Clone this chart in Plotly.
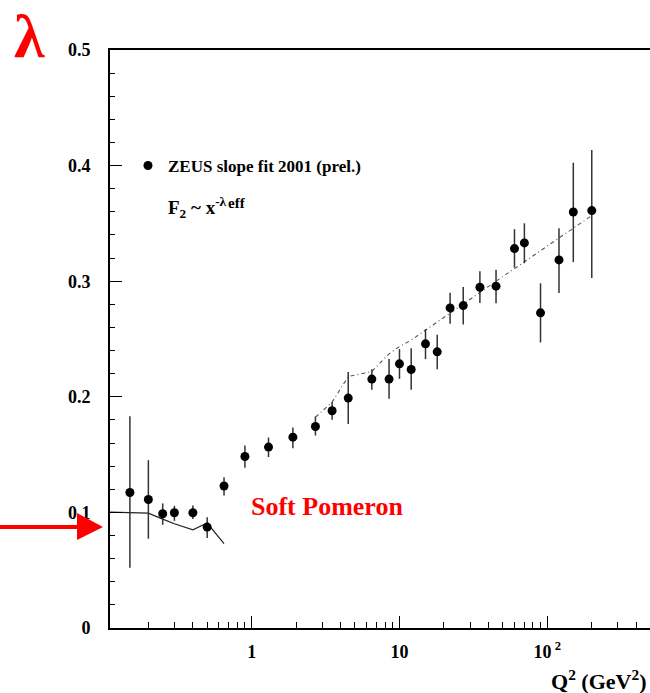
import math
import plotly.graph_objects as go

# ZEUS effective slope lambda_eff of F2 ~ x^-lambda, versus Q^2
q2 = [0.15, 0.2, 0.25, 0.3, 0.4, 0.5, 0.65, 0.9, 1.3, 1.9, 2.7, 3.5, 4.5, 6.5, 8.5,
      10, 12, 15, 18, 22, 27, 35, 45, 60, 70, 90, 120, 150, 200]
lam = [0.1172, 0.1112, 0.0988, 0.0997, 0.0997, 0.0873, 0.1228, 0.1484, 0.1565, 0.1651,
       0.1743, 0.1879, 0.1989, 0.2153, 0.2153, 0.2285, 0.2236, 0.2458, 0.2389, 0.2769,
       0.2789, 0.2948, 0.2957, 0.3282, 0.3331, 0.2726, 0.3184, 0.3599, 0.3611]
err_up = [0.066, 0.034, 0.009, 0.006, 0.0063, 0.0086, 0.0077, 0.0095, 0.0083, 0.0083,
          0.0086, 0.0075, 0.0225, 0.0086, 0.0173, 0.0127, 0.0185, 0.0127, 0.0147, 0.0132,
          0.0161, 0.0138, 0.0143, 0.0168, 0.017, 0.0256, 0.0274, 0.0426, 0.0524]
err_dn = [0.065, 0.034, 0.0095, 0.007, 0.0055, 0.0095, 0.0081, 0.0097, 0.0086, 0.0095,
          0.0078, 0.0078, 0.0225, 0.0092, 0.017, 0.013, 0.0175, 0.0132, 0.015, 0.0138,
          0.0164, 0.0136, 0.0147, 0.0164, 0.0175, 0.0256, 0.0285, 0.0434, 0.0584]

# Soft Pomeron expectation at low Q^2
soft_q2 = [0.11, 0.15, 0.2, 0.25, 0.3, 0.4, 0.5, 0.65]
soft_lam = [0.1003, 0.1000, 0.0994, 0.0942, 0.0902, 0.0850, 0.0908, 0.0729]

# QCD fit curve at higher Q^2
fit_q2 = [2.7, 3.5, 4.5, 6.5, 8.5, 10, 12, 15, 18, 22, 27, 35, 45, 60, 70, 90, 120, 150, 200]
fit_lam = [0.1824, 0.1954, 0.2175, 0.2219, 0.2372, 0.2435, 0.249, 0.2579, 0.2647, 0.2723,
           0.2804, 0.2902, 0.300, 0.3109, 0.3167, 0.3264, 0.3375, 0.3459, 0.3568]

x_major = [1, 10, 100]
x_major_text = ["1", "10", "10<sup> 2</sup>"]
x_minor = [0.2, 0.3, 0.4, 0.5, 0.6, 0.7, 0.8, 0.9,
           2, 3, 4, 5, 6, 7, 8, 9,
           20, 30, 40, 50, 60, 70, 80, 90,
           200, 300, 400]
y_major = [0, 0.1, 0.2, 0.3, 0.4, 0.5]
y_major_text = ["0", "0.1", "0.2", "0.3", "0.4", "0.5"]

SERIF = "Liberation Serif"

fig = go.Figure()

fig.add_trace(go.Scatter(
    x=soft_q2, y=soft_lam, mode="lines",
    line=dict(color="#222222", width=1.2),
    showlegend=False, hoverinfo="skip",
))
fig.add_trace(go.Scatter(
    x=fit_q2, y=fit_lam, mode="lines",
    line=dict(color="#555555", width=1.1, dash="4px,3px,1px,3px"),
    showlegend=False, hoverinfo="skip",
))
fig.add_trace(go.Scatter(
    x=q2, y=lam, mode="markers",
    name="ZEUS slope fit 2001 (prel.)",
    marker=dict(color="black", size=9, symbol="circle"),
    error_y=dict(type="data", symmetric=False, array=err_up, arrayminus=err_dn,
                 color="#333333", thickness=1.5, width=0),
))

# plot area spans 110..650 px horizontally, 50..628 px vertically
L, R, T, B = 110, 0, 50, 65
W, H = 650, 693
pw = W - L - R
ph = H - T - B


def px(xp):
    return (xp - L) / pw


def py(yp):
    return (H - B - yp) / ph


annotations = [
    dict(text="λ", x=px(29), y=py(36), xref="paper", yref="paper",
         showarrow=False, xanchor="center", yanchor="middle", borderpad=0,
         font=dict(family=SERIF, size=62, color="#ff0000", weight="bold")),
    dict(text="F<sub>2</sub> ~ x<sup>-λ</sup>", x=px(166), y=py(207),
         xref="paper", yref="paper", showarrow=False, xanchor="left", yanchor="middle",
         font=dict(family=SERIF, size=19, color="black", weight="bold")),
    dict(text="eff", x=px(226), y=py(203), xref="paper", yref="paper",
         showarrow=False, xanchor="left", yanchor="middle",
         font=dict(family=SERIF, size=15, color="black", weight="bold")),
    dict(text="Soft Pomeron", x=px(249), y=py(506), xref="paper", yref="paper",
         showarrow=False, xanchor="left", yanchor="middle",
         font=dict(family=SERIF, size=26, color="#ff0000", weight="bold")),
    dict(text="Q<sup>2</sup> (GeV<sup>2</sup>)", x=px(648), y=py(680),
         xref="paper", yref="paper", showarrow=False, xanchor="right", yanchor="middle",
         font=dict(family=SERIF, size=22, color="black", weight="bold")),
]

shapes = [
    dict(type="line", xref="paper", yref="paper", x0=px(0), x1=px(80),
         y0=py(527), y1=py(527), line=dict(color="#ff0000", width=4)),
    dict(type="path", xref="paper", yref="paper",
         path=f"M {px(77)} {py(513)} L {px(103)} {py(527)} L {px(77)} {py(540)} Z",
         fillcolor="#ff0000", line=dict(color="#ff0000", width=0)),
]

fig.update_layout(
    width=W, height=H,
    margin=dict(l=L, r=R, t=T, b=B),
    paper_bgcolor="white", plot_bgcolor="white",
    font=dict(family=SERIF, color="black"),
    annotations=annotations,
    shapes=shapes,
    showlegend=True,
    legend=dict(x=px(128), y=py(166), xanchor="left", yanchor="middle",
                bgcolor="rgba(0,0,0,0)", borderwidth=0,
                font=dict(family=SERIF, size=17, color="black", weight="bold")),
)

fig.update_xaxes(
    type="log",
    range=[math.log10(0.11), math.log10(0.11) + pw / 147.8],
    showgrid=False, zeroline=False,
    showline=True, linecolor="black", linewidth=2, mirror=True,
    ticks="inside", ticklen=12, tickwidth=1.2, tickcolor="black",
    tickvals=x_major, ticktext=x_major_text,
    tickfont=dict(family=SERIF, size=18, color="black", weight="bold"),
    ticklabelstandoff=6,
    minor=dict(tickvals=x_minor, ticks="inside", ticklen=6, tickwidth=1.2,
               tickcolor="black", showgrid=False),
)

fig.update_yaxes(
    range=[0, 0.5],
    showgrid=False, zeroline=False,
    showline=True, linecolor="black", linewidth=2, mirror=False,
    ticks="inside", ticklen=12, tickwidth=1.2, tickcolor="black",
    tickvals=y_major, ticktext=y_major_text,
    tickfont=dict(family=SERIF, size=18, color="black", weight="bold"),
    ticklabelstandoff=14,
    minor=dict(dtick=0.02, ticks="inside", ticklen=5, tickwidth=1.2,
               tickcolor="black", showgrid=False),
)

fig.write_html("out.html")
